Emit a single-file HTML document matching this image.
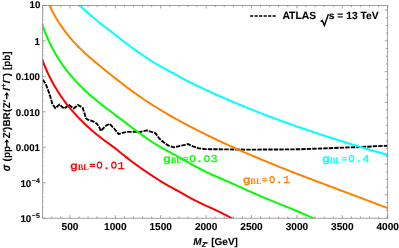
<!DOCTYPE html>
<html><head><meta charset="utf-8"><title>plot</title>
<style>
html,body{margin:0;padding:0;background:#fff;}
body{width:399px;height:248px;overflow:hidden;}
.yl text{font-size:9.9px}
svg{display:block;will-change:transform;}
text{text-rendering:geometricPrecision;stroke:#000;stroke-width:0.1px;font-family:"Liberation Sans",sans-serif;font-weight:bold;font-size:9.5px;fill:#000;}
.mono{stroke:none;font-family:"Liberation Mono",monospace;font-weight:normal;font-size:12px;}
</style></head><body>
<svg width="399" height="248" viewBox="0 0 399 248">
<rect width="399" height="248" fill="#fff"/>
<defs><clipPath id="cp"><rect x="42.70" y="5.40" width="345.00" height="212.80"/></clipPath></defs>
<g clip-path="url(#cp)" fill="none" stroke-linejoin="round">
<path d="M42.80,79.65 L45.80,84.20 L48.10,90.00 L50.70,98.00 L52.20,103.40 L55.30,108.30 L59.50,104.50 L64.10,108.70 L69.00,104.90 L73.70,108.50 L78.00,105.00 L82.60,107.65 L84.15,112.25 L85.95,118.10 L87.50,119.65 L92.80,121.20 L96.65,123.50 L98.95,126.50 L100.70,130.90 L106.20,125.50 L109.70,123.90 L114.10,128.50 L118.70,134.10 L123.30,132.60 L127.90,131.90 L134.00,131.80 L140.10,132.00 L146.60,130.40 L155.40,133.10 L159.25,138.50 L164.00,142.50 L168.00,145.40 L174.10,147.35 L180.25,145.80 L185.00,144.90 L188.00,144.00 L193.00,146.30 L198.40,148.25 L204.50,149.00 L210.00,149.20 L250.00,149.65 L299.00,149.30 L324.00,148.40 L349.00,147.40 L362.00,147.00 L374.00,146.30 L387.60,145.70" stroke="#000" stroke-width="1.9" stroke-dasharray="4.4 1.1"/>
<path d="M42.04,58.92 C42.15,59.23 42.48,60.16 42.71,60.78 C42.94,61.40 43.17,62.02 43.40,62.64 C43.64,63.26 43.88,63.88 44.12,64.49 C44.36,65.11 44.61,65.72 44.86,66.33 C45.11,66.94 45.37,67.55 45.62,68.16 C45.88,68.77 46.14,69.38 46.41,69.98 C46.68,70.59 46.95,71.19 47.22,71.79 C47.49,72.39 47.77,72.99 48.05,73.59 C48.33,74.19 48.61,74.79 48.90,75.38 C49.19,75.98 49.48,76.57 49.78,77.16 C50.07,77.75 50.37,78.34 50.67,78.93 C50.98,79.52 51.28,80.10 51.59,80.69 C51.90,81.27 52.22,81.85 52.53,82.43 C52.85,83.01 53.17,83.59 53.50,84.17 C53.82,84.74 54.15,85.32 54.48,85.89 C54.81,86.46 55.15,87.03 55.48,87.60 C55.82,88.17 56.16,88.74 56.51,89.30 C56.86,89.86 57.20,90.43 57.56,90.99 C57.91,91.55 58.27,92.10 58.62,92.66 C58.98,93.22 59.35,93.77 59.71,94.32 C60.08,94.87 60.45,95.42 60.82,95.97 C61.19,96.52 61.57,97.06 61.95,97.61 C62.33,98.15 62.71,98.69 63.10,99.23 C63.49,99.77 63.88,100.30 64.27,100.83 C64.66,101.37 65.06,101.90 65.46,102.43 C65.86,102.96 66.26,103.49 66.67,104.01 C67.07,104.53 67.48,105.06 67.90,105.58 C68.31,106.10 68.72,106.61 69.14,107.13 C69.56,107.64 69.99,108.15 70.41,108.66 C70.84,109.17 71.27,109.68 71.70,110.19 C72.13,110.69 72.56,111.19 73.00,111.69 C73.44,112.19 73.88,112.69 74.32,113.19 C74.77,113.68 75.21,114.17 75.66,114.66 C76.11,115.15 76.56,115.64 77.02,116.13 C77.47,116.61 77.93,117.09 78.39,117.57 C78.85,118.05 79.31,118.53 79.77,119.00 C80.24,119.48 80.71,119.95 81.17,120.42 C81.64,120.89 82.12,121.36 82.59,121.82 C83.06,122.28 83.54,122.75 84.02,123.20 C84.49,123.66 84.97,124.12 85.46,124.57 C85.94,125.03 86.42,125.48 86.91,125.93 C87.39,126.37 87.88,126.82 88.37,127.26 C88.86,127.70 89.35,128.14 89.85,128.58 C90.34,129.02 90.84,129.45 91.33,129.88 C91.83,130.32 92.33,130.75 92.83,131.17 C93.33,131.60 93.83,132.02 94.33,132.44 C94.83,132.86 95.33,133.28 95.84,133.69 C96.35,134.11 96.85,134.52 97.36,134.93 C97.87,135.34 98.38,135.75 98.89,136.15 C99.40,136.55 99.91,136.95 100.42,137.35 C100.93,137.75 101.44,138.14 101.96,138.54 C102.47,138.93 102.98,139.32 103.50,139.70 C104.02,140.09 104.53,140.47 105.05,140.85 C105.57,141.24 106.08,141.61 106.60,141.99 C107.12,142.37 107.64,142.75 108.16,143.12 C108.68,143.50 109.20,143.88 109.72,144.26 C110.24,144.64 110.76,145.02 111.28,145.40 C111.80,145.79 112.33,146.17 112.85,146.57 C113.37,146.96 113.90,147.35 114.42,147.75 C114.95,148.15 115.47,148.56 116.00,148.97 C116.52,149.38 117.05,149.80 117.57,150.22 C118.10,150.63 118.62,151.06 119.15,151.48 C119.68,151.91 120.21,152.33 120.73,152.76 C121.26,153.19 121.79,153.62 122.32,154.05 C122.85,154.47 123.38,154.90 123.90,155.33 C124.43,155.76 124.96,156.18 125.49,156.60 C126.02,157.03 126.55,157.45 127.08,157.86 C127.61,158.28 128.14,158.70 128.67,159.11 C129.21,159.52 129.74,159.93 130.27,160.33 C130.80,160.74 131.33,161.14 131.86,161.55 C132.40,161.95 132.93,162.35 133.46,162.74 C134.00,163.14 134.53,163.53 135.06,163.93 C135.60,164.32 136.13,164.71 136.67,165.10 C137.20,165.48 137.74,165.87 138.28,166.25 C138.81,166.64 139.35,167.02 139.89,167.40 C140.43,167.78 140.96,168.16 141.50,168.54 C142.04,168.91 142.58,169.29 143.12,169.66 C143.66,170.04 144.20,170.41 144.75,170.78 C145.29,171.15 145.83,171.52 146.37,171.89 C146.92,172.25 147.46,172.62 148.01,172.99 C148.55,173.35 149.10,173.72 149.65,174.08 C150.19,174.44 150.74,174.81 151.29,175.17 C151.84,175.53 152.39,175.89 152.94,176.25 C153.49,176.61 154.04,176.97 154.59,177.33 C155.14,177.69 155.70,178.05 156.25,178.40 C156.81,178.76 157.36,179.11 157.92,179.47 C158.48,179.82 159.03,180.18 159.59,180.53 C160.15,180.88 160.71,181.22 161.27,181.57 C161.83,181.91 162.39,182.26 162.95,182.60 C163.51,182.93 164.08,183.27 164.64,183.60 C165.21,183.93 165.77,184.26 166.34,184.59 C166.90,184.91 167.47,185.23 168.03,185.54 C168.60,185.86 169.17,186.17 169.74,186.48 C170.31,186.79 170.88,187.10 171.45,187.41 C172.02,187.72 172.59,188.03 173.16,188.33 C173.73,188.64 174.31,188.95 174.88,189.26 C175.45,189.57 176.03,189.88 176.60,190.20 C177.18,190.52 177.75,190.83 178.33,191.16 C178.91,191.48 179.48,191.81 180.06,192.14 C180.64,192.47 181.22,192.80 181.79,193.13 C182.37,193.47 182.95,193.80 183.53,194.14 C184.11,194.48 184.69,194.81 185.28,195.15 C185.86,195.48 186.44,195.82 187.02,196.15 C187.60,196.48 188.19,196.81 188.77,197.13 C189.35,197.46 189.94,197.78 190.52,198.10 C191.11,198.41 191.69,198.72 192.28,199.03 C192.87,199.34 193.45,199.64 194.04,199.94 C194.63,200.24 195.21,200.54 195.80,200.83 C196.39,201.12 196.98,201.41 197.56,201.70 C198.15,201.99 198.74,202.27 199.33,202.55 C199.92,202.84 200.51,203.11 201.10,203.39 C201.69,203.67 202.28,203.95 202.87,204.22 C203.46,204.49 204.05,204.77 204.65,205.04 C205.24,205.31 205.83,205.58 206.42,205.85 C207.01,206.12 207.61,206.39 208.20,206.67 C208.79,206.94 209.39,207.21 209.98,207.48 C210.57,207.75 211.17,208.02 211.76,208.29 C212.35,208.56 212.95,208.83 213.54,209.11 C214.14,209.38 214.73,209.66 215.33,209.94 C215.92,210.21 216.52,210.49 217.11,210.78 C217.71,211.06 218.30,211.34 218.90,211.63 C219.49,211.91 220.09,212.20 220.69,212.50 C221.28,212.79 221.88,213.08 222.47,213.38 C223.07,213.68 223.67,213.99 224.26,214.29 C224.86,214.60 225.45,214.91 226.05,215.23 C226.65,215.54 227.24,215.86 227.84,216.19 C228.44,216.52 229.03,216.85 229.63,217.18 C230.23,217.52 230.82,217.86 231.42,218.21 C232.02,218.56 232.91,219.09 233.21,219.27" stroke="#ff0000" stroke-width="2"/>
<path d="M42.09,23.70 C42.23,24.12 42.64,25.40 42.93,26.24 C43.21,27.09 43.51,27.93 43.81,28.77 C44.11,29.61 44.42,30.45 44.74,31.29 C45.06,32.12 45.38,32.96 45.71,33.79 C46.04,34.61 46.38,35.44 46.73,36.26 C47.08,37.09 47.43,37.91 47.79,38.73 C48.15,39.54 48.52,40.36 48.90,41.17 C49.27,41.98 49.65,42.79 50.04,43.59 C50.43,44.39 50.83,45.20 51.24,45.99 C51.64,46.79 52.05,47.58 52.47,48.37 C52.89,49.16 53.31,49.95 53.75,50.73 C54.18,51.51 54.62,52.29 55.06,53.07 C55.51,53.84 55.96,54.62 56.42,55.38 C56.88,56.15 57.34,56.91 57.82,57.67 C58.29,58.43 58.77,59.19 59.25,59.94 C59.74,60.69 60.23,61.44 60.73,62.18 C61.23,62.92 61.74,63.66 62.25,64.39 C62.76,65.13 63.28,65.85 63.80,66.58 C64.33,67.30 64.86,68.02 65.39,68.74 C65.93,69.45 66.47,70.17 67.02,70.87 C67.57,71.58 68.13,72.28 68.69,72.98 C69.25,73.67 69.82,74.36 70.39,75.05 C70.97,75.74 71.55,76.42 72.13,77.09 C72.72,77.77 73.31,78.44 73.91,79.11 C74.50,79.77 75.11,80.43 75.71,81.09 C76.32,81.75 76.94,82.40 77.56,83.04 C78.18,83.69 78.80,84.33 79.43,84.96 C80.06,85.60 80.69,86.23 81.33,86.86 C81.97,87.48 82.61,88.10 83.26,88.72 C83.90,89.34 84.55,89.95 85.21,90.56 C85.86,91.17 86.52,91.77 87.18,92.37 C87.84,92.97 88.50,93.56 89.17,94.15 C89.83,94.74 90.50,95.33 91.17,95.91 C91.84,96.49 92.52,97.07 93.19,97.64 C93.87,98.21 94.55,98.78 95.23,99.35 C95.90,99.91 96.59,100.48 97.27,101.03 C97.95,101.59 98.64,102.15 99.32,102.70 C100.01,103.25 100.70,103.80 101.39,104.35 C102.08,104.89 102.77,105.44 103.46,105.98 C104.15,106.52 104.85,107.06 105.54,107.60 C106.24,108.14 106.94,108.67 107.64,109.21 C108.33,109.75 109.03,110.28 109.74,110.81 C110.44,111.35 111.14,111.88 111.85,112.41 C112.55,112.94 113.26,113.47 113.97,114.00 C114.67,114.54 115.38,115.07 116.09,115.60 C116.80,116.13 117.52,116.66 118.23,117.20 C118.94,117.73 119.66,118.26 120.37,118.80 C121.09,119.33 121.80,119.87 122.52,120.41 C123.24,120.95 123.96,121.49 124.68,122.03 C125.40,122.57 126.12,123.11 126.85,123.66 C127.57,124.20 128.29,124.75 129.02,125.30 C129.74,125.85 130.47,126.39 131.20,126.94 C131.93,127.49 132.65,128.04 133.38,128.59 C134.11,129.14 134.84,129.68 135.58,130.23 C136.31,130.78 137.04,131.32 137.78,131.86 C138.51,132.41 139.25,132.95 139.98,133.49 C140.72,134.02 141.46,134.56 142.20,135.09 C142.94,135.62 143.68,136.15 144.42,136.68 C145.16,137.20 145.90,137.72 146.65,138.24 C147.39,138.75 148.14,139.26 148.88,139.77 C149.63,140.27 150.37,140.77 151.12,141.27 C151.87,141.76 152.62,142.25 153.37,142.73 C154.12,143.21 154.87,143.68 155.63,144.14 C156.38,144.61 157.13,145.07 157.89,145.52 C158.64,145.97 159.40,146.41 160.16,146.84 C160.91,147.28 161.67,147.70 162.43,148.13 C163.19,148.55 163.95,148.97 164.71,149.39 C165.48,149.80 166.24,150.22 167.00,150.63 C167.77,151.05 168.53,151.46 169.30,151.88 C170.06,152.30 170.83,152.71 171.60,153.13 C172.37,153.55 173.14,153.97 173.91,154.39 C174.68,154.81 175.45,155.23 176.22,155.65 C177.00,156.08 177.77,156.51 178.55,156.94 C179.32,157.37 180.10,157.80 180.87,158.24 C181.65,158.67 182.43,159.11 183.21,159.55 C183.99,159.99 184.77,160.43 185.55,160.88 C186.33,161.32 187.12,161.76 187.90,162.20 C188.68,162.65 189.47,163.09 190.25,163.53 C191.04,163.97 191.83,164.42 192.62,164.86 C193.40,165.30 194.19,165.74 194.98,166.17 C195.77,166.61 196.56,167.04 197.36,167.47 C198.15,167.90 198.94,168.33 199.74,168.75 C200.53,169.17 201.33,169.58 202.12,169.98 C202.92,170.39 203.72,170.79 204.52,171.18 C205.32,171.57 206.12,171.96 206.92,172.34 C207.72,172.72 208.52,173.09 209.32,173.46 C210.13,173.83 210.93,174.20 211.73,174.56 C212.54,174.92 213.34,175.28 214.15,175.63 C214.96,175.99 215.76,176.34 216.57,176.69 C217.38,177.04 218.19,177.39 219.00,177.73 C219.81,178.08 220.62,178.43 221.43,178.77 C222.24,179.12 223.06,179.46 223.87,179.81 C224.68,180.16 225.50,180.51 226.31,180.86 C227.13,181.21 227.94,181.56 228.76,181.91 C229.57,182.27 230.39,182.62 231.21,182.98 C232.02,183.35 232.84,183.71 233.66,184.07 C234.48,184.44 235.30,184.81 236.11,185.18 C236.93,185.55 237.75,185.92 238.57,186.29 C239.39,186.67 240.22,187.04 241.04,187.42 C241.86,187.79 242.68,188.17 243.50,188.54 C244.32,188.92 245.15,189.29 245.97,189.67 C246.79,190.05 247.62,190.42 248.44,190.79 C249.26,191.17 250.09,191.54 250.91,191.91 C251.74,192.28 252.56,192.65 253.38,193.02 C254.21,193.39 255.03,193.75 255.86,194.12 C256.69,194.48 257.51,194.84 258.34,195.20 C259.16,195.56 259.99,195.91 260.81,196.26 C261.64,196.62 262.47,196.97 263.29,197.32 C264.12,197.66 264.95,198.01 265.77,198.36 C266.60,198.70 267.42,199.04 268.25,199.39 C269.08,199.73 269.90,200.07 270.73,200.41 C271.56,200.75 272.38,201.08 273.21,201.42 C274.04,201.76 274.86,202.09 275.69,202.43 C276.52,202.76 277.34,203.10 278.17,203.43 C278.99,203.77 279.82,204.10 280.65,204.43 C281.47,204.77 282.30,205.10 283.12,205.43 C283.95,205.77 284.77,206.10 285.60,206.43 C286.42,206.77 287.25,207.10 288.07,207.44 C288.90,207.77 289.72,208.11 290.54,208.44 C291.37,208.78 292.19,209.11 293.01,209.45 C293.84,209.79 294.66,210.13 295.48,210.47 C296.30,210.81 297.12,211.15 297.95,211.50 C298.77,211.84 299.59,212.19 300.41,212.53 C301.23,212.88 302.05,213.23 302.87,213.58 C303.69,213.93 304.51,214.29 305.32,214.64 C306.14,215.00 306.96,215.36 307.78,215.72 C308.59,216.08 309.41,216.44 310.23,216.81 C311.04,217.17 311.86,217.54 312.67,217.92 C313.49,218.29 314.71,218.86 315.11,219.04" stroke="#00ff00" stroke-width="2"/>
<path d="M48.77,3.52 C48.98,4.01 49.62,5.49 50.07,6.47 C50.51,7.44 50.97,8.41 51.44,9.37 C51.91,10.33 52.39,11.28 52.88,12.23 C53.37,13.17 53.87,14.11 54.39,15.04 C54.90,15.97 55.42,16.89 55.96,17.80 C56.49,18.71 57.04,19.62 57.59,20.52 C58.15,21.41 58.71,22.30 59.29,23.19 C59.86,24.07 60.45,24.94 61.04,25.81 C61.64,26.68 62.24,27.54 62.85,28.39 C63.46,29.24 64.09,30.09 64.72,30.92 C65.35,31.76 65.98,32.59 66.63,33.41 C67.28,34.24 67.93,35.05 68.59,35.86 C69.26,36.67 69.93,37.47 70.60,38.26 C71.28,39.05 71.97,39.84 72.66,40.62 C73.35,41.40 74.05,42.17 74.76,42.93 C75.46,43.70 76.18,44.46 76.90,45.21 C77.62,45.96 78.34,46.70 79.07,47.44 C79.80,48.17 80.54,48.90 81.28,49.63 C82.03,50.35 82.78,51.07 83.53,51.78 C84.28,52.49 85.04,53.19 85.81,53.89 C86.57,54.59 87.34,55.28 88.11,55.97 C88.89,56.66 89.67,57.34 90.45,58.02 C91.23,58.71 92.01,59.38 92.80,60.06 C93.59,60.73 94.39,61.40 95.18,62.07 C95.98,62.73 96.78,63.40 97.59,64.06 C98.39,64.73 99.19,65.39 100.00,66.05 C100.81,66.71 101.62,67.37 102.44,68.03 C103.25,68.69 104.07,69.34 104.89,70.00 C105.70,70.66 106.52,71.32 107.34,71.98 C108.17,72.64 108.99,73.30 109.81,73.96 C110.64,74.62 111.46,75.28 112.29,75.93 C113.12,76.59 113.95,77.25 114.78,77.91 C115.62,78.56 116.45,79.22 117.29,79.87 C118.12,80.53 118.96,81.18 119.80,81.83 C120.64,82.48 121.48,83.13 122.32,83.78 C123.16,84.43 124.01,85.08 124.85,85.72 C125.70,86.36 126.55,87.00 127.40,87.64 C128.25,88.28 129.10,88.91 129.95,89.54 C130.81,90.17 131.66,90.80 132.52,91.42 C133.38,92.05 134.24,92.67 135.10,93.28 C135.96,93.90 136.82,94.51 137.69,95.12 C138.55,95.72 139.42,96.33 140.29,96.92 C141.16,97.52 142.03,98.12 142.90,98.71 C143.77,99.30 144.65,99.88 145.53,100.46 C146.40,101.04 147.28,101.62 148.16,102.19 C149.04,102.76 149.92,103.33 150.80,103.90 C151.69,104.46 152.57,105.02 153.46,105.58 C154.34,106.14 155.23,106.69 156.12,107.24 C157.01,107.79 157.90,108.34 158.80,108.88 C159.69,109.43 160.59,109.97 161.48,110.51 C162.38,111.04 163.28,111.58 164.18,112.11 C165.07,112.64 165.98,113.17 166.88,113.69 C167.78,114.22 168.68,114.74 169.59,115.26 C170.50,115.78 171.40,116.30 172.31,116.81 C173.22,117.33 174.13,117.84 175.04,118.35 C175.95,118.86 176.86,119.36 177.78,119.87 C178.69,120.37 179.61,120.88 180.52,121.38 C181.44,121.88 182.36,122.38 183.28,122.87 C184.20,123.37 185.12,123.86 186.04,124.35 C186.96,124.85 187.88,125.34 188.81,125.82 C189.73,126.31 190.66,126.80 191.58,127.28 C192.51,127.76 193.44,128.24 194.37,128.72 C195.30,129.20 196.23,129.68 197.16,130.15 C198.09,130.63 199.02,131.10 199.96,131.57 C200.89,132.04 201.82,132.51 202.76,132.98 C203.70,133.45 204.63,133.91 205.57,134.38 C206.51,134.84 207.45,135.30 208.39,135.76 C209.33,136.22 210.27,136.68 211.22,137.13 C212.16,137.59 213.10,138.04 214.05,138.50 C214.99,138.95 215.94,139.40 216.88,139.85 C217.83,140.30 218.78,140.74 219.73,141.19 C220.68,141.63 221.63,142.08 222.58,142.52 C223.53,142.96 224.48,143.40 225.43,143.84 C226.38,144.28 227.34,144.71 228.29,145.15 C229.25,145.58 230.20,146.02 231.16,146.45 C232.11,146.88 233.07,147.31 234.03,147.74 C234.99,148.17 235.94,148.60 236.90,149.02 C237.86,149.45 238.82,149.87 239.78,150.30 C240.75,150.72 241.71,151.14 242.67,151.56 C243.63,151.98 244.60,152.40 245.56,152.82 C246.52,153.24 247.49,153.65 248.45,154.07 C249.42,154.48 250.39,154.89 251.35,155.31 C252.32,155.72 253.29,156.13 254.26,156.54 C255.22,156.95 256.19,157.36 257.16,157.76 C258.13,158.17 259.10,158.58 260.07,158.98 C261.04,159.39 262.01,159.79 262.99,160.19 C263.96,160.60 264.93,161.00 265.90,161.40 C266.88,161.80 267.85,162.20 268.83,162.59 C269.80,162.99 270.77,163.39 271.75,163.78 C272.72,164.18 273.70,164.58 274.68,164.97 C275.65,165.36 276.63,165.76 277.61,166.15 C278.58,166.54 279.56,166.93 280.54,167.32 C281.52,167.71 282.50,168.10 283.47,168.49 C284.45,168.88 285.43,169.26 286.41,169.65 C287.39,170.04 288.37,170.42 289.35,170.81 C290.33,171.19 291.31,171.58 292.29,171.96 C293.27,172.34 294.26,172.73 295.24,173.11 C296.22,173.49 297.20,173.87 298.18,174.25 C299.17,174.63 300.15,175.01 301.13,175.39 C302.11,175.77 303.10,176.15 304.08,176.53 C305.06,176.91 306.05,177.28 307.03,177.66 C308.01,178.04 309.00,178.41 309.98,178.79 C310.96,179.16 311.95,179.54 312.93,179.91 C313.92,180.29 314.90,180.66 315.89,181.04 C316.87,181.41 317.86,181.78 318.84,182.16 C319.82,182.53 320.81,182.90 321.79,183.27 C322.78,183.65 323.76,184.02 324.75,184.39 C325.73,184.76 326.72,185.13 327.70,185.50 C328.69,185.87 329.67,186.24 330.66,186.61 C331.64,186.98 332.63,187.35 333.61,187.72 C334.60,188.09 335.58,188.46 336.57,188.83 C337.55,189.20 338.54,189.57 339.52,189.94 C340.51,190.31 341.49,190.68 342.48,191.05 C343.46,191.41 344.44,191.78 345.43,192.15 C346.41,192.52 347.40,192.89 348.38,193.26 C349.36,193.62 350.35,193.99 351.33,194.36 C352.32,194.73 353.30,195.10 354.28,195.47 C355.27,195.83 356.25,196.20 357.23,196.57 C358.21,196.94 359.20,197.31 360.18,197.68 C361.16,198.05 362.14,198.42 363.12,198.78 C364.10,199.15 365.09,199.52 366.07,199.89 C367.05,200.26 368.03,200.63 369.01,201.00 C369.99,201.37 370.97,201.74 371.95,202.11 C372.93,202.48 373.91,202.85 374.89,203.22 C375.86,203.59 376.84,203.96 377.82,204.34 C378.80,204.71 379.78,205.08 380.75,205.45 C381.73,205.82 382.71,206.20 383.68,206.57 C384.66,206.94 385.63,207.32 386.61,207.69 C387.58,208.06 389.04,208.63 389.53,208.81" stroke="#ff8000" stroke-width="2"/>
<path d="M78.20,4.07 C78.54,4.37 79.53,5.27 80.20,5.88 C80.86,6.48 81.53,7.09 82.20,7.70 C82.87,8.30 83.54,8.91 84.21,9.52 C84.88,10.13 85.56,10.74 86.23,11.35 C86.91,11.96 87.58,12.57 88.26,13.17 C88.94,13.78 89.62,14.38 90.30,14.98 C90.98,15.58 91.66,16.17 92.35,16.77 C93.03,17.36 93.72,17.95 94.40,18.53 C95.09,19.11 95.78,19.69 96.47,20.26 C97.16,20.83 97.85,21.39 98.55,21.95 C99.24,22.50 99.93,23.05 100.63,23.60 C101.33,24.15 102.02,24.69 102.72,25.23 C103.42,25.77 104.12,26.30 104.83,26.84 C105.53,27.37 106.23,27.91 106.94,28.44 C107.64,28.98 108.35,29.51 109.06,30.05 C109.77,30.58 110.48,31.12 111.19,31.66 C111.90,32.20 112.62,32.75 113.33,33.30 C114.05,33.85 114.76,34.40 115.48,34.96 C116.20,35.51 116.92,36.07 117.64,36.64 C118.36,37.20 119.08,37.76 119.81,38.33 C120.53,38.89 121.26,39.46 121.98,40.03 C122.71,40.59 123.44,41.16 124.17,41.73 C124.90,42.29 125.63,42.86 126.36,43.42 C127.10,43.98 127.83,44.55 128.57,45.11 C129.30,45.66 130.04,46.22 130.78,46.77 C131.52,47.33 132.26,47.88 133.00,48.42 C133.75,48.97 134.49,49.51 135.23,50.04 C135.98,50.57 136.73,51.10 137.47,51.63 C138.22,52.15 138.97,52.67 139.72,53.19 C140.48,53.71 141.23,54.22 141.98,54.74 C142.74,55.25 143.49,55.76 144.25,56.27 C145.01,56.77 145.76,57.28 146.52,57.79 C147.28,58.29 148.04,58.80 148.81,59.29 C149.57,59.79 150.33,60.29 151.10,60.78 C151.86,61.26 152.63,61.75 153.40,62.22 C154.17,62.70 154.94,63.17 155.71,63.62 C156.48,64.08 157.25,64.53 158.02,64.97 C158.79,65.41 159.57,65.84 160.34,66.27 C161.12,66.70 161.90,67.13 162.67,67.55 C163.45,67.97 164.23,68.39 165.01,68.80 C165.79,69.22 166.57,69.64 167.36,70.06 C168.14,70.48 168.92,70.89 169.71,71.32 C170.49,71.74 171.28,72.17 172.07,72.60 C172.86,73.03 173.65,73.47 174.43,73.90 C175.22,74.34 176.02,74.77 176.81,75.21 C177.60,75.65 178.39,76.09 179.19,76.52 C179.98,76.96 180.78,77.40 181.57,77.83 C182.37,78.26 183.17,78.70 183.96,79.12 C184.76,79.55 185.56,79.97 186.36,80.39 C187.16,80.81 187.96,81.23 188.77,81.64 C189.57,82.05 190.37,82.46 191.18,82.86 C191.98,83.27 192.79,83.67 193.59,84.07 C194.40,84.46 195.21,84.86 196.01,85.25 C196.82,85.64 197.63,86.03 198.44,86.42 C199.25,86.80 200.06,87.19 200.87,87.57 C201.68,87.95 202.50,88.33 203.31,88.71 C204.12,89.09 204.94,89.47 205.75,89.84 C206.57,90.22 207.38,90.59 208.20,90.96 C209.02,91.34 209.83,91.71 210.65,92.08 C211.47,92.45 212.29,92.82 213.11,93.19 C213.93,93.56 214.75,93.92 215.57,94.29 C216.39,94.66 217.21,95.02 218.04,95.39 C218.86,95.75 219.68,96.12 220.51,96.48 C221.33,96.84 222.15,97.21 222.98,97.57 C223.81,97.93 224.63,98.29 225.46,98.65 C226.29,99.01 227.11,99.37 227.94,99.72 C228.77,100.08 229.60,100.44 230.43,100.79 C231.26,101.15 232.09,101.50 232.92,101.85 C233.75,102.21 234.58,102.56 235.42,102.91 C236.25,103.26 237.08,103.61 237.91,103.96 C238.75,104.31 239.58,104.66 240.42,105.00 C241.25,105.35 242.09,105.70 242.92,106.04 C243.76,106.39 244.60,106.73 245.43,107.07 C246.27,107.41 247.11,107.75 247.95,108.09 C248.79,108.43 249.63,108.77 250.47,109.11 C251.31,109.45 252.15,109.78 252.99,110.12 C253.83,110.45 254.67,110.79 255.51,111.12 C256.35,111.45 257.20,111.78 258.04,112.11 C258.88,112.44 259.73,112.77 260.57,113.10 C261.41,113.43 262.26,113.76 263.10,114.08 C263.95,114.41 264.79,114.73 265.64,115.05 C266.49,115.38 267.33,115.70 268.18,116.02 C269.03,116.34 269.88,116.66 270.72,116.98 C271.57,117.30 272.42,117.62 273.27,117.93 C274.12,118.25 274.97,118.57 275.82,118.88 C276.67,119.20 277.52,119.51 278.37,119.82 C279.22,120.14 280.07,120.45 280.92,120.76 C281.77,121.07 282.63,121.38 283.48,121.69 C284.33,121.99 285.18,122.30 286.04,122.61 C286.89,122.92 287.74,123.22 288.60,123.53 C289.45,123.83 290.31,124.13 291.16,124.44 C292.02,124.74 292.87,125.04 293.73,125.34 C294.58,125.64 295.44,125.94 296.29,126.24 C297.15,126.54 298.01,126.84 298.86,127.14 C299.72,127.43 300.58,127.73 301.43,128.02 C302.29,128.32 303.15,128.61 304.01,128.91 C304.87,129.20 305.72,129.49 306.58,129.79 C307.44,130.08 308.30,130.37 309.16,130.66 C310.02,130.95 310.88,131.24 311.74,131.53 C312.60,131.82 313.46,132.10 314.32,132.39 C315.18,132.68 316.04,132.96 316.90,133.25 C317.76,133.53 318.62,133.82 319.48,134.10 C320.35,134.38 321.21,134.67 322.07,134.95 C322.93,135.23 323.79,135.51 324.66,135.79 C325.52,136.07 326.38,136.35 327.24,136.63 C328.10,136.91 328.97,137.18 329.83,137.46 C330.69,137.74 331.56,138.01 332.42,138.29 C333.28,138.57 334.15,138.84 335.01,139.11 C335.87,139.39 336.74,139.66 337.60,139.93 C338.47,140.21 339.33,140.48 340.19,140.75 C341.06,141.02 341.92,141.29 342.79,141.56 C343.65,141.83 344.51,142.10 345.38,142.36 C346.24,142.63 347.11,142.90 347.97,143.17 C348.84,143.43 349.70,143.70 350.57,143.96 C351.43,144.23 352.30,144.49 353.16,144.76 C354.03,145.02 354.89,145.28 355.76,145.54 C356.62,145.81 357.49,146.07 358.35,146.33 C359.22,146.59 360.08,146.85 360.95,147.11 C361.82,147.37 362.68,147.63 363.55,147.89 C364.41,148.14 365.28,148.40 366.14,148.66 C367.01,148.92 367.87,149.17 368.74,149.43 C369.60,149.68 370.47,149.94 371.33,150.19 C372.20,150.45 373.06,150.70 373.93,150.95 C374.79,151.21 375.66,151.46 376.53,151.71 C377.39,151.96 378.26,152.21 379.12,152.46 C379.99,152.71 380.85,152.96 381.72,153.21 C382.58,153.46 383.44,153.71 384.31,153.96 C385.17,154.21 386.04,154.46 386.90,154.70 C387.77,154.95 389.06,155.32 389.50,155.44" stroke="#00ffff" stroke-width="2"/>
</g>
<g stroke="#7c7c7c" stroke-width="0.7" fill="none">
<rect x="42.70" y="5.40" width="345.00" height="212.80"/>
<line x1="51.78" y1="218.20" x2="51.78" y2="216.40"/>
<line x1="51.78" y1="5.40" x2="51.78" y2="7.20"/>
<line x1="60.86" y1="218.20" x2="60.86" y2="216.40"/>
<line x1="60.86" y1="5.40" x2="60.86" y2="7.20"/>
<line x1="69.94" y1="218.20" x2="69.94" y2="215.20"/>
<line x1="69.94" y1="5.40" x2="69.94" y2="8.40"/>
<line x1="79.02" y1="218.20" x2="79.02" y2="216.40"/>
<line x1="79.02" y1="5.40" x2="79.02" y2="7.20"/>
<line x1="88.09" y1="218.20" x2="88.09" y2="216.40"/>
<line x1="88.09" y1="5.40" x2="88.09" y2="7.20"/>
<line x1="97.17" y1="218.20" x2="97.17" y2="216.40"/>
<line x1="97.17" y1="5.40" x2="97.17" y2="7.20"/>
<line x1="106.25" y1="218.20" x2="106.25" y2="216.40"/>
<line x1="106.25" y1="5.40" x2="106.25" y2="7.20"/>
<line x1="115.33" y1="218.20" x2="115.33" y2="215.20"/>
<line x1="115.33" y1="5.40" x2="115.33" y2="8.40"/>
<line x1="124.41" y1="218.20" x2="124.41" y2="216.40"/>
<line x1="124.41" y1="5.40" x2="124.41" y2="7.20"/>
<line x1="133.49" y1="218.20" x2="133.49" y2="216.40"/>
<line x1="133.49" y1="5.40" x2="133.49" y2="7.20"/>
<line x1="142.57" y1="218.20" x2="142.57" y2="216.40"/>
<line x1="142.57" y1="5.40" x2="142.57" y2="7.20"/>
<line x1="151.65" y1="218.20" x2="151.65" y2="216.40"/>
<line x1="151.65" y1="5.40" x2="151.65" y2="7.20"/>
<line x1="160.73" y1="218.20" x2="160.73" y2="215.20"/>
<line x1="160.73" y1="5.40" x2="160.73" y2="8.40"/>
<line x1="169.81" y1="218.20" x2="169.81" y2="216.40"/>
<line x1="169.81" y1="5.40" x2="169.81" y2="7.20"/>
<line x1="178.88" y1="218.20" x2="178.88" y2="216.40"/>
<line x1="178.88" y1="5.40" x2="178.88" y2="7.20"/>
<line x1="187.96" y1="218.20" x2="187.96" y2="216.40"/>
<line x1="187.96" y1="5.40" x2="187.96" y2="7.20"/>
<line x1="197.04" y1="218.20" x2="197.04" y2="216.40"/>
<line x1="197.04" y1="5.40" x2="197.04" y2="7.20"/>
<line x1="206.12" y1="218.20" x2="206.12" y2="215.20"/>
<line x1="206.12" y1="5.40" x2="206.12" y2="8.40"/>
<line x1="215.20" y1="218.20" x2="215.20" y2="216.40"/>
<line x1="215.20" y1="5.40" x2="215.20" y2="7.20"/>
<line x1="224.28" y1="218.20" x2="224.28" y2="216.40"/>
<line x1="224.28" y1="5.40" x2="224.28" y2="7.20"/>
<line x1="233.36" y1="218.20" x2="233.36" y2="216.40"/>
<line x1="233.36" y1="5.40" x2="233.36" y2="7.20"/>
<line x1="242.44" y1="218.20" x2="242.44" y2="216.40"/>
<line x1="242.44" y1="5.40" x2="242.44" y2="7.20"/>
<line x1="251.52" y1="218.20" x2="251.52" y2="215.20"/>
<line x1="251.52" y1="5.40" x2="251.52" y2="8.40"/>
<line x1="260.59" y1="218.20" x2="260.59" y2="216.40"/>
<line x1="260.59" y1="5.40" x2="260.59" y2="7.20"/>
<line x1="269.67" y1="218.20" x2="269.67" y2="216.40"/>
<line x1="269.67" y1="5.40" x2="269.67" y2="7.20"/>
<line x1="278.75" y1="218.20" x2="278.75" y2="216.40"/>
<line x1="278.75" y1="5.40" x2="278.75" y2="7.20"/>
<line x1="287.83" y1="218.20" x2="287.83" y2="216.40"/>
<line x1="287.83" y1="5.40" x2="287.83" y2="7.20"/>
<line x1="296.91" y1="218.20" x2="296.91" y2="215.20"/>
<line x1="296.91" y1="5.40" x2="296.91" y2="8.40"/>
<line x1="305.99" y1="218.20" x2="305.99" y2="216.40"/>
<line x1="305.99" y1="5.40" x2="305.99" y2="7.20"/>
<line x1="315.07" y1="218.20" x2="315.07" y2="216.40"/>
<line x1="315.07" y1="5.40" x2="315.07" y2="7.20"/>
<line x1="324.15" y1="218.20" x2="324.15" y2="216.40"/>
<line x1="324.15" y1="5.40" x2="324.15" y2="7.20"/>
<line x1="333.23" y1="218.20" x2="333.23" y2="216.40"/>
<line x1="333.23" y1="5.40" x2="333.23" y2="7.20"/>
<line x1="342.31" y1="218.20" x2="342.31" y2="215.20"/>
<line x1="342.31" y1="5.40" x2="342.31" y2="8.40"/>
<line x1="351.38" y1="218.20" x2="351.38" y2="216.40"/>
<line x1="351.38" y1="5.40" x2="351.38" y2="7.20"/>
<line x1="360.46" y1="218.20" x2="360.46" y2="216.40"/>
<line x1="360.46" y1="5.40" x2="360.46" y2="7.20"/>
<line x1="369.54" y1="218.20" x2="369.54" y2="216.40"/>
<line x1="369.54" y1="5.40" x2="369.54" y2="7.20"/>
<line x1="378.62" y1="218.20" x2="378.62" y2="216.40"/>
<line x1="378.62" y1="5.40" x2="378.62" y2="7.20"/>
<line x1="387.70" y1="218.20" x2="387.70" y2="215.20"/>
<line x1="387.70" y1="5.40" x2="387.70" y2="8.40"/>
<line x1="42.70" y1="218.20" x2="45.70" y2="218.20"/>
<line x1="42.70" y1="207.52" x2="44.20" y2="207.52" stroke-opacity="0.45"/>
<line x1="42.70" y1="201.28" x2="44.20" y2="201.28" stroke-opacity="0.45"/>
<line x1="42.70" y1="196.85" x2="44.20" y2="196.85" stroke-opacity="0.45"/>
<line x1="42.70" y1="193.41" x2="44.20" y2="193.41" stroke-opacity="0.45"/>
<line x1="42.70" y1="190.60" x2="44.20" y2="190.60" stroke-opacity="0.45"/>
<line x1="42.70" y1="188.23" x2="44.20" y2="188.23" stroke-opacity="0.45"/>
<line x1="42.70" y1="186.17" x2="44.20" y2="186.17" stroke-opacity="0.45"/>
<line x1="42.70" y1="184.36" x2="44.20" y2="184.36" stroke-opacity="0.45"/>
<line x1="42.70" y1="182.73" x2="45.70" y2="182.73"/>
<line x1="42.70" y1="172.06" x2="44.20" y2="172.06" stroke-opacity="0.45"/>
<line x1="42.70" y1="165.81" x2="44.20" y2="165.81" stroke-opacity="0.45"/>
<line x1="42.70" y1="161.38" x2="44.20" y2="161.38" stroke-opacity="0.45"/>
<line x1="42.70" y1="157.94" x2="44.20" y2="157.94" stroke-opacity="0.45"/>
<line x1="42.70" y1="155.13" x2="44.20" y2="155.13" stroke-opacity="0.45"/>
<line x1="42.70" y1="152.76" x2="44.20" y2="152.76" stroke-opacity="0.45"/>
<line x1="42.70" y1="150.70" x2="44.20" y2="150.70" stroke-opacity="0.45"/>
<line x1="42.70" y1="148.89" x2="44.20" y2="148.89" stroke-opacity="0.45"/>
<line x1="42.70" y1="147.27" x2="45.70" y2="147.27"/>
<line x1="42.70" y1="136.59" x2="44.20" y2="136.59" stroke-opacity="0.45"/>
<line x1="42.70" y1="130.34" x2="44.20" y2="130.34" stroke-opacity="0.45"/>
<line x1="42.70" y1="125.91" x2="44.20" y2="125.91" stroke-opacity="0.45"/>
<line x1="42.70" y1="122.48" x2="44.20" y2="122.48" stroke-opacity="0.45"/>
<line x1="42.70" y1="119.67" x2="44.20" y2="119.67" stroke-opacity="0.45"/>
<line x1="42.70" y1="117.29" x2="44.20" y2="117.29" stroke-opacity="0.45"/>
<line x1="42.70" y1="115.24" x2="44.20" y2="115.24" stroke-opacity="0.45"/>
<line x1="42.70" y1="113.42" x2="44.20" y2="113.42" stroke-opacity="0.45"/>
<line x1="42.70" y1="111.80" x2="45.70" y2="111.80"/>
<line x1="42.70" y1="101.12" x2="44.20" y2="101.12" stroke-opacity="0.45"/>
<line x1="42.70" y1="94.88" x2="44.20" y2="94.88" stroke-opacity="0.45"/>
<line x1="42.70" y1="90.45" x2="44.20" y2="90.45" stroke-opacity="0.45"/>
<line x1="42.70" y1="87.01" x2="44.20" y2="87.01" stroke-opacity="0.45"/>
<line x1="42.70" y1="84.20" x2="44.20" y2="84.20" stroke-opacity="0.45"/>
<line x1="42.70" y1="81.83" x2="44.20" y2="81.83" stroke-opacity="0.45"/>
<line x1="42.70" y1="79.77" x2="44.20" y2="79.77" stroke-opacity="0.45"/>
<line x1="42.70" y1="77.96" x2="44.20" y2="77.96" stroke-opacity="0.45"/>
<line x1="42.70" y1="76.33" x2="45.70" y2="76.33"/>
<line x1="42.70" y1="65.66" x2="44.20" y2="65.66" stroke-opacity="0.45"/>
<line x1="42.70" y1="59.41" x2="44.20" y2="59.41" stroke-opacity="0.45"/>
<line x1="42.70" y1="54.98" x2="44.20" y2="54.98" stroke-opacity="0.45"/>
<line x1="42.70" y1="51.54" x2="44.20" y2="51.54" stroke-opacity="0.45"/>
<line x1="42.70" y1="48.73" x2="44.20" y2="48.73" stroke-opacity="0.45"/>
<line x1="42.70" y1="46.36" x2="44.20" y2="46.36" stroke-opacity="0.45"/>
<line x1="42.70" y1="44.30" x2="44.20" y2="44.30" stroke-opacity="0.45"/>
<line x1="42.70" y1="42.49" x2="44.20" y2="42.49" stroke-opacity="0.45"/>
<line x1="42.70" y1="40.87" x2="45.70" y2="40.87"/>
<line x1="42.70" y1="30.19" x2="44.20" y2="30.19" stroke-opacity="0.45"/>
<line x1="42.70" y1="23.94" x2="44.20" y2="23.94" stroke-opacity="0.45"/>
<line x1="42.70" y1="19.51" x2="44.20" y2="19.51" stroke-opacity="0.45"/>
<line x1="42.70" y1="16.08" x2="44.20" y2="16.08" stroke-opacity="0.45"/>
<line x1="42.70" y1="13.27" x2="44.20" y2="13.27" stroke-opacity="0.45"/>
<line x1="42.70" y1="10.89" x2="44.20" y2="10.89" stroke-opacity="0.45"/>
<line x1="42.70" y1="8.84" x2="44.20" y2="8.84" stroke-opacity="0.45"/>
<line x1="42.70" y1="7.02" x2="44.20" y2="7.02" stroke-opacity="0.45"/>
<line x1="42.70" y1="5.40" x2="45.70" y2="5.40"/>
<line x1="387.70" y1="10.06" x2="384.70" y2="10.06"/>
<line x1="387.70" y1="17.76" x2="385.90" y2="17.76"/>
<line x1="387.70" y1="25.46" x2="385.90" y2="25.46"/>
<line x1="387.70" y1="33.17" x2="385.90" y2="33.17"/>
<line x1="387.70" y1="40.87" x2="384.70" y2="40.87"/>
<line x1="387.70" y1="48.57" x2="385.90" y2="48.57"/>
<line x1="387.70" y1="56.27" x2="385.90" y2="56.27"/>
<line x1="387.70" y1="63.97" x2="385.90" y2="63.97"/>
<line x1="387.70" y1="71.67" x2="384.70" y2="71.67"/>
<line x1="387.70" y1="79.37" x2="385.90" y2="79.37"/>
<line x1="387.70" y1="87.08" x2="385.90" y2="87.08"/>
<line x1="387.70" y1="94.78" x2="385.90" y2="94.78"/>
<line x1="387.70" y1="102.48" x2="384.70" y2="102.48"/>
<line x1="387.70" y1="110.18" x2="385.90" y2="110.18"/>
<line x1="387.70" y1="117.88" x2="385.90" y2="117.88"/>
<line x1="387.70" y1="125.58" x2="385.90" y2="125.58"/>
<line x1="387.70" y1="133.28" x2="384.70" y2="133.28"/>
<line x1="387.70" y1="140.99" x2="385.90" y2="140.99"/>
<line x1="387.70" y1="148.69" x2="385.90" y2="148.69"/>
<line x1="387.70" y1="156.39" x2="385.90" y2="156.39"/>
<line x1="387.70" y1="164.09" x2="384.70" y2="164.09"/>
<line x1="387.70" y1="171.79" x2="385.90" y2="171.79"/>
<line x1="387.70" y1="179.49" x2="385.90" y2="179.49"/>
<line x1="387.70" y1="187.19" x2="385.90" y2="187.19"/>
<line x1="387.70" y1="194.90" x2="384.70" y2="194.90"/>
<line x1="387.70" y1="202.60" x2="385.90" y2="202.60"/>
<line x1="387.70" y1="210.30" x2="385.90" y2="210.30"/>
<line x1="387.70" y1="218.00" x2="385.90" y2="218.00"/>
</g>
<g><text x="69.94" y="229.9" text-anchor="middle" style="font-size:10.1px">500</text><text x="115.33" y="229.9" text-anchor="middle" style="font-size:10.1px">1000</text><text x="160.73" y="229.9" text-anchor="middle" style="font-size:10.1px">1500</text><text x="206.12" y="229.9" text-anchor="middle" style="font-size:10.1px">2000</text><text x="251.52" y="229.9" text-anchor="middle" style="font-size:10.1px">2500</text><text x="296.91" y="229.9" text-anchor="middle" style="font-size:10.1px">3000</text><text x="342.31" y="229.9" text-anchor="middle" style="font-size:10.1px">3500</text><text x="387.70" y="229.9" text-anchor="middle" style="font-size:10.1px">4000</text></g>
<g><text x="39.8" y="222.20" text-anchor="end" style="font-size:9.8px">10<tspan dy="-3.8" dx="0.5" font-size="7">−5</tspan></text><text x="39.8" y="186.73" text-anchor="end" style="font-size:9.8px">10<tspan dy="-3.8" dx="0.5" font-size="7">−4</tspan></text><text x="40.00" y="151.37" text-anchor="end" style="font-size:9.7px">0.001</text><text x="40.00" y="115.90" text-anchor="end" style="font-size:9.7px">0.010</text><text x="40.00" y="80.43" text-anchor="end" style="font-size:9.7px">0.100</text><text x="40.00" y="44.97" text-anchor="end" style="font-size:9.7px">1</text><text x="40.40" y="8.40" text-anchor="end" style="font-size:9.7px">10</text></g>
<!-- x axis label -->
<text x="193.3" y="245.2" style="font-size:10px"><tspan font-style="italic">M</tspan><tspan font-style="italic" font-size="7.2" dy="1.5">Z</tspan><tspan font-size="7.2">&#8242;</tspan><tspan dy="-1.5" dx="0.7"> [GeV]</tspan></text>
<!-- y axis label -->
<g transform="translate(9.95,0) rotate(-90)" style="font-size:9.9px" class="yl">
<text x="-161.40" y="0">(pp</text><text x="-138.30" y="0">Z&#8242;)BR<tspan dx="0.3">(</tspan><tspan dx="0.5">Z&#8242;</tspan></text><text x="-90.70" y="0"><tspan font-style="italic">l</tspan><tspan font-size="7.2" dy="-4.4" dx="0.2">+</tspan></text><text x="-83.30" y="0"><tspan font-style="italic">l</tspan><tspan font-size="7.2" dy="-4.4" dx="0.2">&#8722;</tspan><tspan dy="4.4">) [pb]</tspan></text><text transform="translate(-171.2,0) scale(0.84,1)" style="font-size:11.8px;font-style:italic">&#963;</text><path d="M-146.60,-3.20 L-140.50,-3.20" stroke="#000" stroke-width="1.3" fill="none"/><path d="M-139.00,-3.20 L-142.80,-5.80 L-141.80,-3.20 L-142.80,-0.60 Z" fill="#000"/><path d="M-99.20,-3.20 L-93.50,-3.20" stroke="#000" stroke-width="1.3" fill="none"/><path d="M-92.00,-3.20 L-95.80,-5.80 L-94.80,-3.20 L-95.80,-0.60 Z" fill="#000"/>
</g>
<!-- legend -->
<line x1="250.1" y1="16.0" x2="275.7" y2="16.0" stroke="#000" stroke-width="1.5" stroke-dasharray="3.15 1.35"/>
<text x="282.4" y="19.3" style="font-size:10.4px">ATLAS</text>
<path d="M320.6,21.6 L322.3,20.6 L324.4,25.6 L328.4,14.2" fill="none" stroke="#000" stroke-width="1.4"/>
<text x="328.7" y="19.3" style="font-size:10.3px">s = 13 TeV</text>
<!-- curve labels -->
<g><text class="mono" transform="translate(70.10,168.60) scale(1.08,0.84)" style="fill:#ff0000;stroke:#ff0000;stroke-width:0.5px">g</text><text transform="translate(77.70,170.00)" style="fill:#ff0000;stroke:none;font-family:'Liberation Serif',serif;font-weight:bold;font-size:8.4px">BL</text><path d="M89.65,164.30 h5.3 M89.65,166.40 h5.3" stroke="#ff0000" stroke-width="1.15" fill="none"/><ellipse cx="99.50" cy="165.10" rx="2.2" ry="3.0" fill="none" stroke="#ff0000" stroke-width="1.25"/><text class="mono" transform="translate(103.10,168.60) scale(1,0.88)" style="fill:#ff0000;stroke:#ff0000;stroke-width:0.3px;">.</text><ellipse cx="113.90" cy="165.10" rx="2.2" ry="3.0" fill="none" stroke="#ff0000" stroke-width="1.25"/><text class="mono" transform="translate(117.50,168.60) scale(1,0.88)" style="fill:#ff0000;stroke:#ff0000;stroke-width:0.3px;">1</text></g><g><text class="mono" transform="translate(163.10,162.00) scale(1.08,0.84)" style="fill:#00ff00;stroke:#00ff00;stroke-width:0.5px">g</text><text transform="translate(170.70,163.40)" style="fill:#00ff00;stroke:none;font-family:'Liberation Serif',serif;font-weight:bold;font-size:8.4px">BL</text><path d="M182.65,157.70 h5.3 M182.65,159.80 h5.3" stroke="#00ff00" stroke-width="1.15" fill="none"/><ellipse cx="192.50" cy="158.50" rx="2.2" ry="3.0" fill="none" stroke="#00ff00" stroke-width="1.25"/><text class="mono" transform="translate(196.10,162.00) scale(1,0.88)" style="fill:#00ff00;stroke:#00ff00;stroke-width:0.3px;">.</text><ellipse cx="206.90" cy="158.50" rx="2.2" ry="3.0" fill="none" stroke="#00ff00" stroke-width="1.25"/><text class="mono" transform="translate(210.50,162.00) scale(1,0.88)" style="fill:#00ff00;stroke:#00ff00;stroke-width:0.3px;">3</text></g><g><text class="mono" transform="translate(242.70,183.00) scale(1.08,0.84)" style="fill:#ff8000;stroke:#ff8000;stroke-width:0.5px">g</text><text transform="translate(250.30,184.40)" style="fill:#ff8000;stroke:none;font-family:'Liberation Serif',serif;font-weight:bold;font-size:8.4px">BL</text><path d="M262.25,178.70 h5.3 M262.25,180.80 h5.3" stroke="#ff8000" stroke-width="1.15" fill="none"/><ellipse cx="272.10" cy="179.50" rx="2.2" ry="3.0" fill="none" stroke="#ff8000" stroke-width="1.25"/><text class="mono" transform="translate(275.70,183.00) scale(1,0.88)" style="fill:#ff8000;stroke:#ff8000;stroke-width:0.3px;">.</text><text class="mono" transform="translate(282.90,183.00) scale(1,0.88)" style="fill:#ff8000;stroke:#ff8000;stroke-width:0.3px;">1</text></g><g><text class="mono" transform="translate(322.10,162.00) scale(1.08,0.84)" style="fill:#00ffff;stroke:#00ffff;stroke-width:0.5px">g</text><text transform="translate(329.70,163.40)" style="fill:#00ffff;stroke:none;font-family:'Liberation Serif',serif;font-weight:bold;font-size:8.4px">BL</text><path d="M341.65,157.70 h5.3 M341.65,159.80 h5.3" stroke="#00ffff" stroke-width="1.15" fill="none"/><ellipse cx="351.50" cy="158.50" rx="2.2" ry="3.0" fill="none" stroke="#00ffff" stroke-width="1.25"/><text class="mono" transform="translate(355.10,162.00) scale(1,0.88)" style="fill:#00ffff;stroke:#00ffff;stroke-width:0.3px;">.</text><text class="mono" transform="translate(362.30,162.00) scale(1,0.88)" style="fill:#00ffff;stroke:#00ffff;stroke-width:0.3px;">4</text></g>
</svg>
</body></html>
